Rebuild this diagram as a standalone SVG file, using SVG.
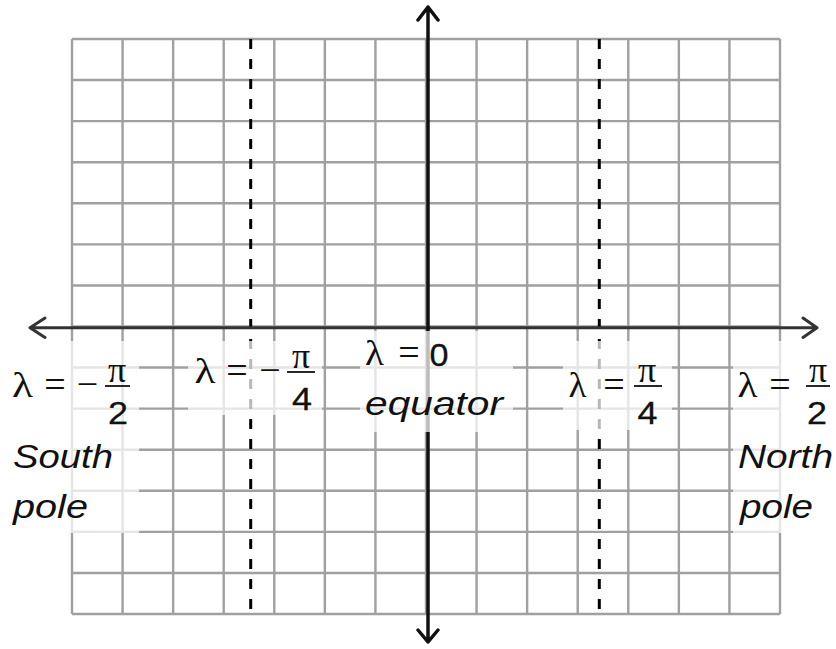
<svg xmlns="http://www.w3.org/2000/svg" width="836" height="649" viewBox="0 0 836 649">
<style>
.grid{fill:none;stroke:#a0a0a0;stroke-width:2.4}
.dash{fill:none;stroke:#000;stroke-width:3;stroke-dasharray:10 10}
.ax{fill:none;stroke:#111;stroke-width:3.5;stroke-linecap:round;stroke-linejoin:round}
.axh{fill:none;stroke:#333;stroke-width:3;stroke-linecap:round;stroke-linejoin:round}
.veil{fill:#fff;fill-opacity:0.72}
.m{font-family:"Liberation Serif","Times New Roman",serif;font-size:38px;fill:#111;text-anchor:middle}
.l{font-family:"Liberation Serif","Times New Roman",serif;font-size:35px;fill:#111;text-anchor:middle}
.p{font-family:"Liberation Serif","Times New Roman",serif;font-size:36px;fill:#111;text-anchor:middle}
.d{font-family:"Liberation Sans",Arial,sans-serif;font-size:31px;fill:#111;stroke:#111;stroke-width:0.3;text-anchor:middle}
.t{font-family:"Liberation Sans",Arial,sans-serif;font-size:33px;font-style:italic;fill:#111}
.bar{stroke:#111;stroke-width:1.8}
</style>
<rect width="836" height="649" fill="#fff"/>
<g id="grid">
<path class="grid" d="M72 39V614M122.57 39V614M173.14 39V614M223.71 39V614M274.29 39V614M324.86 39V614M375.43 39V614M426 39V614M476.57 39V614M527.14 39V614M577.71 39V614M628.29 39V614M678.86 39V614M729.43 39V614M780 39V614
M72 39H780M72 80.07H780M72 121.14H780M72 162.21H780M72 203.29H780M72 244.36H780M72 285.43H780M72 326.5H780M72 367.57H780M72 408.64H780M72 449.71H780M72 490.79H780M72 531.86H780M72 572.93H780M72 614H780"/>
</g>
<g id="connectors">
<line id="dash-left" class="dash" x1="250.7" y1="39" x2="250.7" y2="614"/>
<line id="dash-right" class="dash" x1="599.3" y1="39" x2="599.3" y2="614"/>
<path id="axis-h" class="axh" d="M30 327.7H817M45 318L30 327.7L45 337.4M803 318L817 327.7L803 337.4"/>
<path id="axis-v" class="ax" d="M428 7V642M418 20L428 7L438 20M418 630L428 642L438 630"/>
</g>
<g id="veils">
<rect class="veil" x="0" y="341" width="139" height="192"/>
<rect class="veil" x="188" y="341" width="134" height="74"/>
<rect class="veil" x="360" y="331" width="153" height="101"/>
<rect class="veil" x="563" y="341" width="109" height="89"/>
<rect class="veil" x="733" y="341" width="103" height="192"/>
</g>
<g id="label-south">
<text class="l" x="22.5" y="397" textLength="21" lengthAdjust="spacingAndGlyphs">λ</text>
<text class="m" x="55" y="397">=</text>
<text class="m" x="87.5" y="397">−</text>
<text class="p" x="117" y="382">π</text>
<line class="bar" x1="105" y1="386" x2="130" y2="386"/>
<text class="d" x="118" y="424" textLength="20" lengthAdjust="spacingAndGlyphs">2</text>
<text class="t" x="13" y="468" textLength="100" lengthAdjust="spacingAndGlyphs">South</text>
<text class="t" x="13" y="518" textLength="75" lengthAdjust="spacingAndGlyphs">pole</text>
</g>
<g id="label-minus-quarter">
<text class="l" x="205" y="383" textLength="21" lengthAdjust="spacingAndGlyphs">λ</text>
<text class="m" x="237" y="383">=</text>
<text class="m" x="270" y="383">−</text>
<text class="p" x="301" y="368">π</text>
<line class="bar" x1="287" y1="372" x2="315" y2="372"/>
<text class="d" x="302" y="410" textLength="20" lengthAdjust="spacingAndGlyphs">4</text>
</g>
<g id="label-equator">
<text class="l" x="374.5" y="365" textLength="19" lengthAdjust="spacingAndGlyphs">λ</text>
<text class="m" x="409" y="365">=</text>
<text class="d" x="439" y="366" textLength="19" lengthAdjust="spacingAndGlyphs">0</text>
<text class="t" x="365" y="415" textLength="138" lengthAdjust="spacingAndGlyphs">equator</text>
</g>
<g id="label-quarter">
<text class="l" x="577.5" y="397" textLength="18" lengthAdjust="spacingAndGlyphs">λ</text>
<text class="m" x="614" y="397">=</text>
<text class="p" x="647" y="382">π</text>
<line class="bar" x1="634" y1="386" x2="662" y2="386"/>
<text class="d" x="647.5" y="424" textLength="20" lengthAdjust="spacingAndGlyphs">4</text>
</g>
<g id="label-north">
<text class="l" x="747.5" y="397" textLength="20" lengthAdjust="spacingAndGlyphs">λ</text>
<text class="m" x="780" y="397">=</text>
<text class="p" x="818" y="382">π</text>
<line class="bar" x1="806" y1="386" x2="830" y2="386"/>
<text class="d" x="817" y="424" textLength="20" lengthAdjust="spacingAndGlyphs">2</text>
<text class="t" x="738" y="468" textLength="95" lengthAdjust="spacingAndGlyphs">North</text>
<text class="t" x="740" y="518" textLength="73" lengthAdjust="spacingAndGlyphs">pole</text>
</g>
</svg>
